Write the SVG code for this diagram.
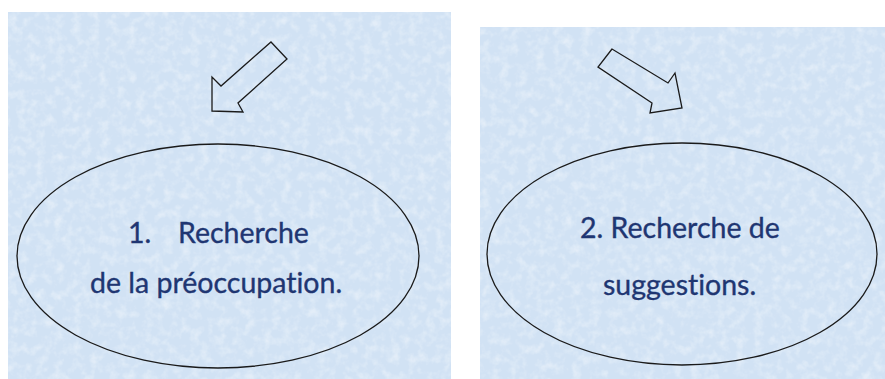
<svg xmlns="http://www.w3.org/2000/svg" width="885" height="379" viewBox="0 0 885 379">
  <style>
    .panel { fill: #d1e2f4; }
    .tex { fill: #ffffff; filter: url(#paper); opacity: 0.4; }
    .oval { fill: none; stroke: #1a1a1a; stroke-width: 1.3; }
    .arrow { fill: none; stroke: #1a1a1a; stroke-width: 1.3; stroke-linejoin: miter; }
    .lbl { font-family: "Lato", "Open Sans", "Liberation Sans", sans-serif; font-size: 28.5px; fill: #1f3672; stroke: #1f3672; stroke-width: 0.35; font-variant-ligatures: none; }
  </style>
  <defs>
    <filter id="paper" x="0" y="0" width="100%" height="100%">
      <feTurbulence type="fractalNoise" baseFrequency="0.11" numOctaves="3" seed="4" result="n"/>
      <feColorMatrix in="n" type="matrix" values="0 0 0 0 1  0 0 0 0 1  0 0 0 0 1  0 0 0 -2.2 1.25" result="a"/>
      <feComposite in="SourceGraphic" in2="a" operator="in"/>
    </filter>
  </defs>
  <rect width="885" height="379" fill="#ffffff"/>

  <g id="panel1">
    <rect class="panel" x="8" y="12" width="443" height="367"/>
    <rect class="tex" x="8" y="12" width="443" height="367"/>
  </g>
  <g id="panel2">
    <rect class="panel" x="480" y="27" width="405" height="352"/>
    <rect class="tex" x="480" y="27" width="405" height="352"/>
  </g>

  <g id="node1">
    <ellipse class="oval" cx="218" cy="256" rx="201" ry="112"/>
    <text class="lbl" x="128" y="243">1.</text>
    <text class="lbl" x="178" y="243">Recherche</text>
    <text class="lbl" x="90" y="293">de la préoccupation.</text>
  </g>

  <g id="node2">
    <ellipse class="oval" cx="682" cy="254" rx="195" ry="111"/>
    <text class="lbl" x="580" y="238">2. Recherche de</text>
    <text class="lbl" x="603" y="295">suggestions.</text>
  </g>

  <g id="connectors">
    <polygon class="arrow" points="271,42 287,59 238,103 243,112 212,111 212,77 221,86"/>
    <polygon class="arrow" points="612,49 598,67 652,103 650,113 682,108 675,73 668,83"/>
  </g>
</svg>
